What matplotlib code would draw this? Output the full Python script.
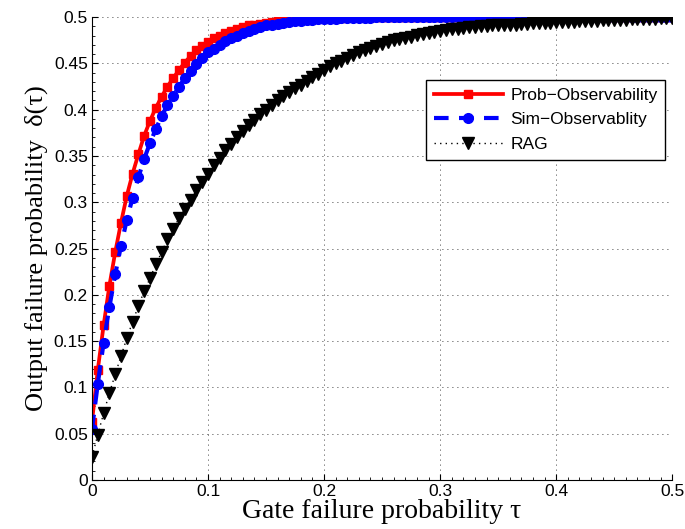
import numpy as np
import matplotlib
matplotlib.use("Agg")
import matplotlib.pyplot as plt
from matplotlib.ticker import MultipleLocator

# gate failure probability tau, sampled every 0.005
tau = np.round(np.arange(101) * 0.005, 3)

probObs = [
    0.063, 0.119, 0.167, 0.210, 0.246, 0.278, 0.307, 0.331, 0.352, 0.372,
    0.388, 0.402, 0.414, 0.425, 0.434, 0.443, 0.451, 0.458, 0.464, 0.469,
    0.473, 0.477, 0.480, 0.483, 0.485, 0.487, 0.489, 0.491, 0.492, 0.493,
    0.494, 0.495, 0.496, 0.496, 0.497, 0.497, 0.498, 0.498, 0.498, 0.499,
    0.499, 0.499, 0.499, 0.499, 0.500, 0.500, 0.500, 0.500, 0.500, 0.500,
    0.500, 0.500, 0.500, 0.500, 0.500, 0.500, 0.500, 0.500, 0.500, 0.500,
    0.500, 0.500, 0.500, 0.500, 0.500, 0.500, 0.500, 0.500, 0.500, 0.500,
    0.500, 0.500, 0.500, 0.500, 0.500, 0.500, 0.500, 0.500, 0.500, 0.500,
    0.500, 0.500, 0.500, 0.500, 0.500, 0.500, 0.500, 0.500, 0.500, 0.500,
    0.500, 0.500, 0.500, 0.500, 0.500, 0.500, 0.500, 0.500, 0.500, 0.500,
    0.500,
]

simObs = [
    0.055, 0.104, 0.148, 0.187, 0.222, 0.253, 0.281, 0.305, 0.327, 0.347,
    0.364, 0.379, 0.393, 0.405, 0.415, 0.425, 0.434, 0.442, 0.449, 0.456,
    0.462, 0.466, 0.470, 0.474, 0.477, 0.480, 0.483, 0.485, 0.487, 0.489,
    0.491, 0.492, 0.493, 0.494, 0.495, 0.496, 0.496, 0.497, 0.497, 0.498,
    0.498, 0.498, 0.498, 0.499, 0.499, 0.499, 0.499, 0.499, 0.499, 0.500,
    0.500, 0.500, 0.500, 0.500, 0.500, 0.500, 0.500, 0.500, 0.500, 0.500,
    0.500, 0.500, 0.500, 0.500, 0.500, 0.500, 0.500, 0.500, 0.500, 0.500,
    0.500, 0.500, 0.500, 0.500, 0.500, 0.500, 0.500, 0.500, 0.500, 0.500,
    0.500, 0.500, 0.500, 0.500, 0.500, 0.500, 0.500, 0.500, 0.500, 0.500,
    0.500, 0.500, 0.500, 0.500, 0.500, 0.500, 0.500, 0.500, 0.500, 0.500,
    0.500,
]

rag = [
    0.025, 0.049, 0.072, 0.094, 0.114, 0.134, 0.153, 0.171, 0.188, 0.204,
    0.218, 0.233, 0.246, 0.260, 0.271, 0.283, 0.293, 0.303, 0.313, 0.322,
    0.331, 0.340, 0.348, 0.356, 0.363, 0.370, 0.377, 0.383, 0.389, 0.395,
    0.400, 0.405, 0.410, 0.415, 0.419, 0.423, 0.427, 0.431, 0.435, 0.439,
    0.443, 0.447, 0.450, 0.453, 0.456, 0.459, 0.462, 0.464, 0.467, 0.469,
    0.471, 0.473, 0.475, 0.476, 0.478, 0.479, 0.481, 0.482, 0.483, 0.484,
    0.485, 0.486, 0.487, 0.487, 0.488, 0.489, 0.489, 0.490, 0.490, 0.491,
    0.491, 0.492, 0.492, 0.492, 0.493, 0.493, 0.494, 0.494, 0.494, 0.494,
    0.495, 0.495, 0.495, 0.495, 0.496, 0.496, 0.496, 0.496, 0.497, 0.497,
    0.497, 0.497, 0.497, 0.498, 0.498, 0.498, 0.498, 0.498, 0.499, 0.499,
    0.499,
]

labels = ["Prob\u2212Observability", "Sim\u2212Observablity", "RAG"]
xTicks = [0, 0.1, 0.2, 0.3, 0.4, 0.5]
yTicks = [0, 0.05, 0.1, 0.15, 0.2, 0.25, 0.3, 0.35, 0.4, 0.45, 0.5]

plt.rcParams["font.family"] = ["Liberation Sans", "DejaVu Sans"]
serif = ["Liberation Serif", "DejaVu Serif"]

fig = plt.figure(figsize=(6.85, 5.29), dpi=100)
ax = fig.add_axes([0.1343, 0.0926, 0.847, 0.875])

ax.plot(tau, probObs, color="red", linestyle="-", linewidth=2.7,
        marker="s", markersize=5.5, label=labels[0])
ax.plot(tau, simObs, color="blue", linestyle=(0, (3.5, 2.5)), linewidth=3,
        marker="o", markersize=7, label=labels[1])
ax.plot(tau, rag, color="black", linestyle=(0, (1, 3)), linewidth=1,
        marker="v", markersize=9, label=labels[2])

ax.set_xlim(0, 0.5)
ax.set_ylim(0, 0.5)
ax.set_xticks(xTicks)
ax.set_xticklabels(["0", "0.1", "0.2", "0.3", "0.4", "0.5"])
ax.set_yticks(yTicks)
ax.set_yticklabels(["0", "0.05", "0.1", "0.15", "0.2", "0.25", "0.3",
                    "0.35", "0.4", "0.45", "0.5"])
ax.xaxis.set_minor_locator(MultipleLocator(0.01))
ax.yaxis.set_minor_locator(MultipleLocator(0.01))
ax.tick_params(which="both", direction="in", labelsize=12.5, top=False, right=False)
ax.tick_params(which="major", length=4, pad=3)
ax.tick_params(which="minor", length=2)

ax.grid(True, which="major", color="black", linestyle=(0, (1, 5)), linewidth=0.6)
for side in ["top", "right"]:
    ax.spines[side].set_visible(False)
for side in ["left", "bottom"]:
    ax.spines[side].set_linewidth(0.8)

ax.set_xlabel("Gate failure probability \u03c4", family=serif, fontsize=20, labelpad=0)
ax.set_ylabel("Output failure probability  \u03b4(\u03c4)", family=serif, fontsize=19, labelpad=4)

leg = ax.legend(loc="upper right", bbox_to_anchor=(0.988, 0.865), fontsize=12.5,
                fancybox=False, framealpha=1, edgecolor="black",
                handlelength=4, handletextpad=0.4, borderpad=0.45,
                labelspacing=0.55, borderaxespad=0)
leg.get_frame().set_linewidth(1.0)

fig.savefig("out.png", dpi=100)
